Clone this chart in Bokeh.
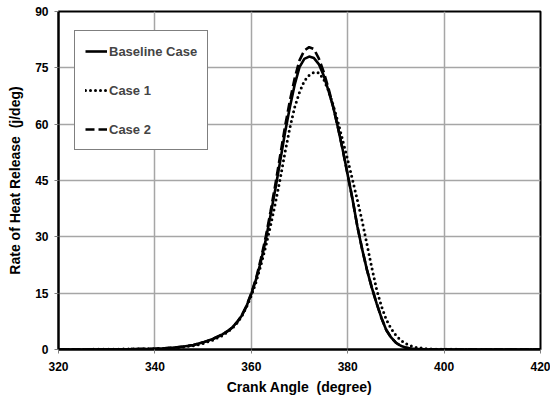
from bokeh.plotting import figure
from bokeh.models import Range1d, FixedTicker, Legend, LegendItem
from bokeh.embed import file_html
from bokeh.resources import INLINE

# Crank angle (degree) and rate of heat release (j/deg)
angle_base = [320, 325, 330, 335, 340, 342, 344, 346, 348, 350, 352, 354, 355, 356, 357, 358, 359,
              360, 361, 362, 363, 364, 365, 366, 367, 368, 369, 370, 371, 372, 373, 374, 375, 376,
              377, 378, 379, 380, 381, 382, 383, 384, 385, 386, 387, 388, 389, 390, 391, 392, 393,
              394, 396, 400, 420]
baseline = [0, 0, 0.05, 0.1, 0.2, 0.3, 0.5, 0.8, 1.2, 1.9, 2.8, 4.0, 4.8, 5.8, 7.2, 9.0, 11.5,
            14.8, 18.7, 23.5, 29.2, 35.8, 42.8, 50.2, 57.8, 64.5, 70.5, 75.2, 77.4, 78.0, 77.6, 76.0, 73.0, 69.0,
            64.5, 59.0, 53.0, 46.5, 40.0, 32.8, 26.7, 21.2, 16.5, 12.3, 8.4, 5.2, 3.2, 1.8, 1.0, 0.5, 0.25,
            0.1, 0.03, 0, 0]

angle_c1 = [320, 330, 340, 344, 348, 350, 352, 354, 356, 357, 358, 359, 360, 361, 362, 363, 364,
            365, 366, 367, 368, 369, 370, 371, 372, 373, 374, 375, 376, 377, 378, 379, 380, 381,
            382, 383, 384, 385, 386, 387, 388, 389, 390, 391, 392, 393, 394, 396, 398, 400, 420]
case1 = [0, 0.05, 0.2, 0.4, 1.0, 1.6, 2.5, 3.7, 5.6, 7.0, 8.8, 11.3, 14.3, 18.0, 22.5, 27.5, 33.0,
         39.0, 45.5, 52.5, 59.0, 64.5, 68.5, 71.5, 73.0, 73.8, 73.7, 72.0, 69.0, 65.0, 60.5, 55.5, 50.5, 45.2,
         39.8, 34.2, 28.0, 21.8, 16.0, 11.5, 8.0, 5.6, 3.8, 2.5, 1.6, 1.0, 0.6, 0.25, 0.1, 0.04, 0]

angle_c2 = angle_base
case2 = [0, 0, 0.05, 0.1, 0.2, 0.3, 0.5, 0.8, 1.2, 1.9, 2.8, 4.0, 4.8, 5.8, 7.2, 9.0, 11.6,
         15.0, 19.0, 24.2, 30.0, 36.8, 44.0, 51.7, 59.4, 66.2, 72.2, 77.0, 79.6, 80.5, 80.0, 77.5, 74.0, 69.6,
         64.6, 59.0, 53.0, 46.5, 40.0, 32.8, 26.7, 21.2, 16.5, 12.3, 8.4, 5.2, 3.2, 1.8, 1.0, 0.5, 0.25,
         0.1, 0.03, 0, 0]

x_ticks = [320, 340, 360, 380, 400, 420]
y_ticks = [0, 15, 30, 45, 60, 75, 90]

FONT = "Liberation Sans"
NBSP = "\u00a0"

p = figure(width=550, height=403, output_backend="svg", toolbar_location=None,
           x_range=Range1d(320, 420), y_range=Range1d(0, 90),
           min_border_left=58, min_border_right=10, min_border_top=11, min_border_bottom=54)
p.frame_width = 482
p.frame_height = 338

p.background_fill_color = "white"
p.border_fill_color = "white"
p.outline_line_color = "black"
p.outline_line_width = 2

for ax in (p.xaxis[0], p.yaxis[0]):
    ax.axis_line_color = "black"
    ax.axis_line_width = 2
    ax.major_tick_line_color = "#808080"
    ax.major_tick_in = 0
    ax.major_tick_out = 4
    ax.minor_tick_line_color = None
    ax.major_label_text_font = FONT
    ax.major_label_text_font_style = "bold"
    ax.major_label_text_font_size = "12px"
    ax.major_label_text_color = "black"
    ax.axis_label_text_font = FONT
    ax.axis_label_text_font_style = "bold"
    ax.axis_label_text_font_size = "14px"
    ax.axis_label_text_color = "black"

p.xaxis.ticker = FixedTicker(ticks=x_ticks)
p.yaxis.ticker = FixedTicker(ticks=y_ticks)
p.xaxis.axis_label = "Crank Angle" + NBSP + " (degree)"
p.yaxis.axis_label = "Rate of Heat Release" + NBSP + " (j/deg)"
p.xaxis.major_label_standoff = 8
p.xaxis.axis_label_standoff = 5
p.yaxis.major_label_standoff = 6
p.yaxis.axis_label_standoff = 9

p.xgrid.ticker = FixedTicker(ticks=x_ticks)
p.ygrid.ticker = FixedTicker(ticks=y_ticks)
p.grid.grid_line_color = "#a6a6a6"
p.grid.grid_line_width = 1.5

r1 = p.line(angle_c1, case1, line_color="black", line_width=3, line_dash="0 5", line_cap="round")
r2 = p.line(angle_c2, case2, line_color="black", line_width=2.6, line_dash="9 4")
r0 = p.line(angle_base, baseline, line_color="black", line_width=2.6)

legend = Legend(items=[LegendItem(label="Baseline Case", renderers=[r0]),
                       LegendItem(label="Case 1", renderers=[r1]),
                       LegendItem(label="Case 2", renderers=[r2])],
                location=(16, 199))
legend.border_line_color = "black"
legend.border_line_width = 1
legend.background_fill_color = "white"
legend.background_fill_alpha = 1
legend.label_text_font = FONT
legend.label_text_font_style = "bold"
legend.label_text_font_size = "13px"
legend.glyph_width = 22
legend.glyph_height = 20
legend.label_standoff = 2
legend.spacing = 19
legend.padding = 10
legend.margin = 0
p.add_layout(legend, "center")

open("out.html", "w").write(file_html(p, INLINE))
